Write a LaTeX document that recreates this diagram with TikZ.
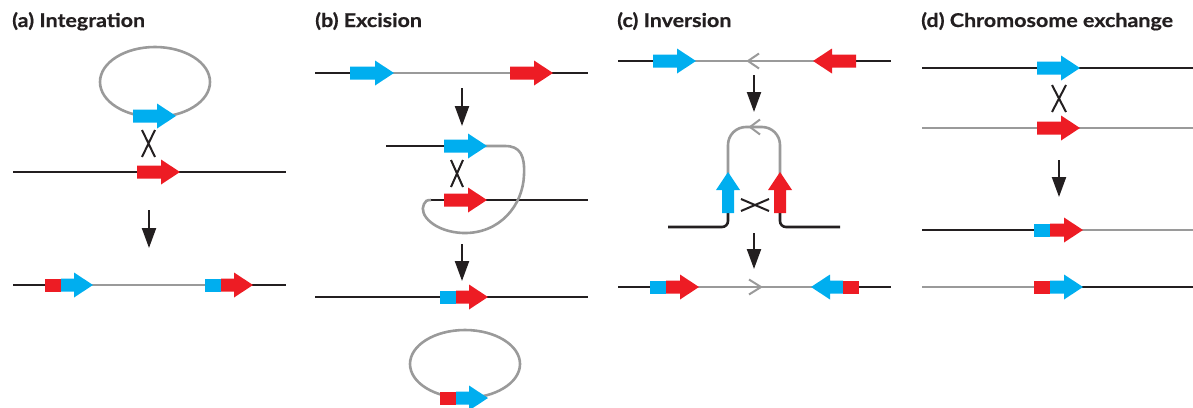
\documentclass[tikz,border=0pt]{standalone}
\usepackage{fontspec}
\setmainfont{Lato}
\newfontfamily\ttlfont{Lato}[FakeStretch=1.13, FakeBold=0.6]
\usetikzlibrary{arrows.meta}
\definecolor{cblue}{HTML}{00AEEF}
\definecolor{cred}{HTML}{ED1C24}
\definecolor{cblk}{HTML}{231F20}
\definecolor{cgray}{HTML}{9A9A9A}
\newcommand\arR[4]{\fill[#1] (#2,#4-6.5) -- (#3-19,#4-6.5) -- (#3-19,#4-12.5) -- (#3,#4) -- (#3-19,#4+12.5) -- (#3-19,#4+6.5) -- (#2,#4+6.5) -- cycle;}
\newcommand\arL[4]{\fill[#1] (#2,#4-6.5) -- (#3+19,#4-6.5) -- (#3+19,#4-12.5) -- (#3,#4) -- (#3+19,#4+12.5) -- (#3+19,#4+6.5) -- (#2,#4+6.5) -- cycle;}
\newcommand\arU[4]{\fill[#1] (#2-6,#3) -- (#2-6,#4+18) -- (#2-12,#4+18) -- (#2,#4) -- (#2+12,#4+18) -- (#2+6,#4+18) -- (#2+6,#3) -- cycle;}
\newcommand\sq[4]{\fill[#1] (#2,#4-6.5) rectangle (#3,#4+6.5);}
\tikzset{
  bline/.style={draw=cblk, line width=2.6pt},
  gline/.style={draw=cgray, line width=2.6pt},
  xline/.style={draw=cblk, line width=2pt},
  chev/.style={draw=cgray, line width=2pt},
  darr/.style={draw=cblk, line width=2.2pt, -{Triangle[width=14pt,length=20pt]}},
  title/.style={anchor=base west, inner sep=0pt, text=cblk, font=\fontsize{19}{22}\selectfont\ttlfont\bfseries},
}
\begin{document}
\begin{tikzpicture}[x=1pt,y=-1pt]
\useasboundingbox (0,0) rectangle (1193,407);
% titles
\node[title] (ta) at (12,27) {(a) Integration};
\node[title] (tb) at (315,27) {(b) Excision};
\node[title] (tc) at (617,27) {(c) Inversion};
\node[title] (td) at (921,27) {(d) Chromosome exchange};
% ---------------- (a)
\draw[gline] (155,82) ellipse [x radius=55, y radius=35];
\arR{cblue}{133}{176}{116}
\draw[xline] (142,130)--(155,157) (155,130)--(142,157);
\draw[bline] (13,172)--(286,172);
\arR{cred}{137}{180}{172}
\coordinate (a1) at (149,210); \coordinate (a2) at (149,248);
\draw[darr] (a1)--(a2);
\draw[bline] (13,285)--(50,285);
\draw[gline] (85,285)--(210,285);
\draw[bline] (245,285)--(286,285);
\sq{cred}{45}{61}{285} \arR{cblue}{61}{93}{285}
\sq{cblue}{205}{221}{285} \arR{cred}{221}{253}{285}
% ---------------- (b)
\draw[bline] (315,73)--(355,73);
\draw[gline] (390,73)--(515,73);
\draw[bline] (550,73)--(588,73);
\arR{cblue}{350}{394}{73} \arR{cred}{510}{553}{73}
\coordinate (b1) at (462,88); \coordinate (b2) at (462,126);
\draw[darr] (b1)--(b2);
\draw[bline] (386,146)--(450,146);
\draw[bline] (428,200)--(588,200);
\draw[gline] (480,146) -- (505,146) .. controls (520,146) and (525,155) .. (524,175)
  .. controls (523,205) and (500,234) .. (463,233)
  .. controls (435,232) and (418,215) .. (424,204)
  .. controls (425,201) and (427,200) .. (431,200);
\arR{cblue}{444}{487}{146} \arR{cred}{444}{487}{200}
\draw[xline] (451,160)--(463,187) (463,160)--(451,187);
\coordinate (b3) at (462,244); \coordinate (b4) at (462,281);
\draw[darr] (b3)--(b4);
\draw[bline] (315,297)--(588,297);
\sq{cblue}{440}{456}{297} \arR{cred}{456}{488}{297}
\draw[gline] (465,364) ellipse [x radius=55, y radius=34];
\sq{cred}{440}{456}{398} \arR{cblue}{456}{488}{398}
% ---------------- (c)
\draw[bline] (618,61)--(660,61);
\draw[gline] (690,61)--(820,61);
\draw[bline] (850,61)--(891,61);
\arR{cblue}{653}{696}{61} \arL{cred}{856}{813}{61}
\draw[chev] (759,53.5)--(748,61)--(759,68.5);
\coordinate (c1) at (754,75); \coordinate (c2) at (754,112);
\draw[darr] (c1)--(c2);
\draw[gline, rounded corners=18pt] (728,180)--(728,127)--(780,127)--(780,180);
\draw[chev] (760,119.5)--(750,127)--(760,134.5);
\draw[bline, rounded corners=6pt] (728,205)--(728,227)--(668,227);
\draw[bline, rounded corners=6pt] (780,205)--(780,227)--(840,227);
\arU{cblue}{728}{213}{172} \arU{cred}{780}{213}{172}
\draw[xline] (741,199)--(769,211) (741,211)--(769,199);
\coordinate (c3) at (754,233); \coordinate (c4) at (754,269);
\draw[darr] (c3)--(c4);
\draw[bline] (618,287)--(655,287);
\draw[gline] (690,287)--(820,287);
\draw[bline] (855,287)--(891,287);
\sq{cblue}{650}{666}{287} \arR{cred}{666}{699}{287}
\arL{cblue}{843}{811}{287} \sq{cred}{843}{859}{287}
\draw[chev] (749,279.5)--(761,287)--(749,294.5);
% ---------------- (d)
\draw[bline] (922,68)--(1193,68);
\arR{cblue}{1037}{1080}{68}
\draw[xline] (1052,85)--(1066,112) (1066,85)--(1052,112);
\draw[gline] (922,128)--(1193,128);
\arR{cred}{1037}{1080}{128}
\coordinate (d1) at (1059,160); \coordinate (d2) at (1059,197);
\draw[darr] (d1)--(d2);
\draw[bline] (922,230)--(1040,230);
\draw[gline] (1075,230)--(1193,230);
\sq{cblue}{1034}{1050}{230} \arR{cred}{1050}{1083}{230}
\draw[gline] (922,287)--(1040,287);
\draw[bline] (1075,287)--(1193,287);
\sq{cred}{1034}{1050}{287} \arR{cblue}{1050}{1083}{287}
\end{tikzpicture}
\end{document}
